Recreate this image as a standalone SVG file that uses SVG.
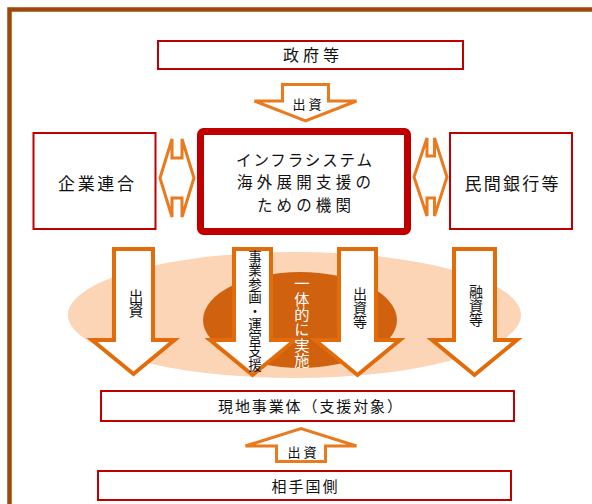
<svg xmlns="http://www.w3.org/2000/svg" width="592" height="504" viewBox="0 0 592 504">
<style>
text{font-family:"Noto Sans CJK JP","Liberation Sans",sans-serif;fill:#111;}
.box{fill:#fff;stroke:#C00000;stroke-width:2;}
.main{fill:#fff;stroke:#C00000;stroke-width:7;}
.arr{fill:#fff;stroke:#E36C0A;stroke-width:4;stroke-linejoin:miter;}
.arrs{fill:#fff;stroke:#E97A1E;stroke-width:3;stroke-linejoin:miter;}
.t17{font-size:17px;}
.tc{font-size:15.5px;}
.t15{font-size:15px;}
.t13{font-size:13px;}
.v{writing-mode:vertical-rl;text-orientation:upright;font-size:14px;}
</style>
<rect x="9.5" y="9.5" width="600" height="520" fill="#fff" stroke="#9C4A0C" stroke-width="4.5"/>
<g id="support-area">
<ellipse cx="294.5" cy="315" rx="226.5" ry="63" fill="#FBD5B5"/>
<ellipse cx="300" cy="320" rx="97" ry="48" fill="#CF610F"/>
</g>
<g id="connectors">
<polygon class="arrs" points="282.5,84.5 328.5,84.5 328.5,101 356.5,101 305.5,121 254.5,101 282.5,101"/>
<polygon class="arrs" points="160,178 172,139 172,158 182,158 182,139 194,178 182,217 182,198 172,198 172,217"/>
<polygon class="arrs" points="414,177 427,138 427,156 434.5,156 434.5,138 447,177 434.5,216 434.5,198 427,198 427,216"/>
<polygon class="arr" points="114,249 153,249 153,340 174.5,340 133.5,374 92,340 114,340"/>
<polygon class="arr" points="234,249 271,249 271,340 295,340 252.5,375 210,340 234,340"/>
<polygon class="arr" points="339,249 376,249 376,340 400,340 357.5,375 315,340 339,340"/>
<polygon class="arr" points="454,249 495,249 495,340 517,340 474.5,375 432,340 454,340"/>
<polygon class="arrs" points="276.5,461.5 325.5,461.5 325.5,446 356.5,446 301,428.5 245.5,446 276.5,446"/>
<text class="t13" x="307" y="109" text-anchor="middle" textLength="29" lengthAdjust="spacing">出資</text>
<text class="t13" x="302" y="457" text-anchor="middle" textLength="29" lengthAdjust="spacing">出資</text>
<text class="v" x="136" y="289" style="font-size:14.5px">出資</text>
<text class="v" x="255" y="250" style="font-size:13.5px">事業参画・運営支援</text>
<text class="v" x="360" y="286.5">出資等</text>
<text class="v" x="476" y="285">融資等</text>
<text class="v" x="302" y="276" style="font-size:15.3px;fill:#fff">一体的に実施</text>
</g>
<g id="government">
<rect class="box" x="158" y="41" width="305" height="28"/>
<text x="311" y="61" font-size="16" text-anchor="middle" textLength="56" lengthAdjust="spacing">政府等</text>
</g>
<g id="companies">
<rect class="box" x="33.5" y="133" width="122" height="96"/>
<text class="t17" x="96" y="190" text-anchor="middle" textLength="76" lengthAdjust="spacing">企業連合</text>
</g>
<g id="agency">
<rect class="main" x="200.5" y="131.5" width="207" height="100" rx="3"/>
<text class="tc" x="304" y="165.5" text-anchor="middle" textLength="136" lengthAdjust="spacing">インフラシステム</text>
<text class="tc" x="304" y="188" text-anchor="middle" textLength="134" lengthAdjust="spacing">海外展開支援の</text>
<text class="tc" x="304" y="210.5" text-anchor="middle" textLength="94" lengthAdjust="spacing">ための機関</text>
</g>
<g id="banks">
<rect class="box" x="450" y="133" width="122" height="96"/>
<text class="t17" x="511.5" y="190" text-anchor="middle" textLength="94" lengthAdjust="spacing">民間銀行等</text>
</g>
<g id="local-entity">
<rect class="box" x="101" y="391" width="413" height="30"/>
<text class="t15" x="310" y="411.5" text-anchor="middle" textLength="184" lengthAdjust="spacing">現地事業体（支援対象）</text>
</g>
<g id="partner-country">
<rect class="box" x="98" y="471" width="413" height="29"/>
<text class="t15" x="304.5" y="492" text-anchor="middle" textLength="66" lengthAdjust="spacing">相手国側</text>
</g>
</svg>
